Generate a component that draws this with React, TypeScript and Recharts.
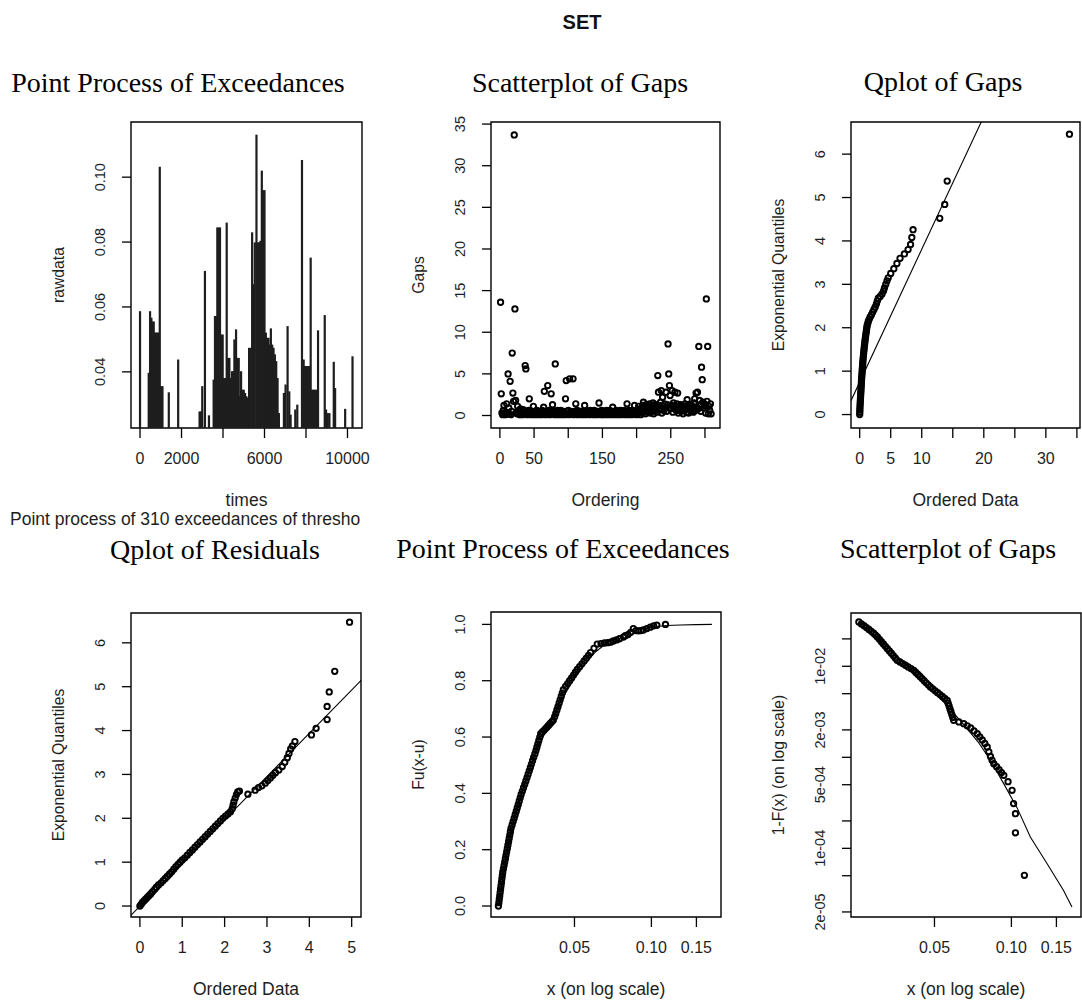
import React from 'react'
import {
  ComposedChart,
  Scatter,
  Line,
  Bar,
  XAxis,
  YAxis,
  ReferenceArea,
  Label,
} from 'recharts'

const SANS = '"Liberation Sans", Arial, Helvetica, sans-serif'
const SERIF = '"Liberation Serif", "Times New Roman", Times, serif'
const INK = '#1e1e1e'

// --- panel 1: point process of exceedances (time, raw value)
const exceedTimes = [
  0, 419, 484, 548, 613, 661, 726, 790, 839, 903, 952, 1016, 1081, 1387, 1839,
  2871, 2936, 3000, 3129, 3323, 3549, 3613, 3678, 3726, 3791, 3855, 3920, 3984,
  4049, 4113, 4178, 4242, 4307, 4371, 4436, 4500, 4549, 4629, 4694, 4758, 4823,
  4871, 4936, 5000, 5065, 5129, 5194, 5258, 5323, 5404, 5468, 5533, 5613, 5678,
  5742, 5807, 5871, 5936, 6000, 6065, 6129, 6194, 6258, 6307, 6371, 6436, 6500,
  6565, 6630, 6694, 6936, 7016, 7113, 7194, 7258, 7484, 7581, 7807, 7888, 7952,
  8017, 8081, 8146, 8226, 8291, 8355, 8420, 8484, 8581, 8904, 8968, 9049, 9129,
  9339, 9404, 9888, 10243,
]
const exceedValues = [
  0.0587, 0.0397, 0.0587, 0.0567, 0.0555, 0.0555, 0.0521, 0.0521, 0.0521, 0.0521,
  0.1032, 0.0356, 0.0356, 0.0337, 0.0438, 0.0278, 0.0278, 0.0356, 0.0711, 0.0266,
  0.0376, 0.0572, 0.0572, 0.0845, 0.0845, 0.0845, 0.0515, 0.0515, 0.0381, 0.0381,
  0.086, 0.0443, 0.0443, 0.0381, 0.0402, 0.0402, 0.05, 0.0531, 0.0443, 0.0443,
  0.0325, 0.0402, 0.0345, 0.0345, 0.0335, 0.0325, 0.032, 0.0474, 0.0474, 0.083,
  0.067, 0.0799, 0.1131, 0.0799, 0.0799, 0.0804, 0.102, 0.096, 0.096, 0.0521,
  0.0505, 0.0505, 0.0484, 0.0534, 0.0484, 0.0474, 0.0454, 0.0433, 0.0381, 0.0273,
  0.0335, 0.0361, 0.0541, 0.034, 0.0268, 0.0284, 0.0299, 0.1053, 0.0438, 0.0418,
  0.0418, 0.0418, 0.0418, 0.0752, 0.0345, 0.0345, 0.0345, 0.0345, 0.0528, 0.0575,
  0.0284, 0.0273, 0.0273, 0.0431, 0.035, 0.0286, 0.0448,
]

// --- panel 2: gaps in order of occurrence
const gapValues = [
  13.6, 2.6, 0.3, 0.1, 0.6, 1.2, 0.2, 0.1, 0.4, 1.4,
  0.3, 5.0, 0.9, 0.2, 4.1, 0.1, 0.5, 7.5, 2.7, 1.7,
  33.7, 12.8, 1.8, 0.4, 0.2, 1.1, 0.3, 0.6, 0.1, 0.8,
  0.2, 0.4, 0.1, 0.7, 0.3, 0.2, 6.0, 5.6, 0.5, 0.1,
  0.3, 0.6, 2.0, 0.2, 0.4, 0.1, 0.5, 0.3, 1.1, 0.2,
  0.1, 0.5, 0.3, 0.6, 0.2, 0.1, 0.4, 0.5, 0.2, 0.3,
  0.1, 0.6, 0.2, 1.0, 2.9, 0.4, 0.1, 0.3, 0.5, 3.6,
  0.2, 0.6, 0.1, 0.4, 2.6, 0.3, 1.3, 0.2, 0.5, 0.1,
  6.2, 0.4, 0.2, 0.6, 0.1, 0.3, 0.5, 0.2, 0.6, 0.1,
  0.4, 0.2, 0.5, 0.3, 0.1, 2.0, 4.2, 0.5, 0.2, 0.6,
  0.1, 4.4, 0.3, 0.5, 0.2, 0.4, 4.4, 0.1, 0.5, 0.3,
  1.4, 0.2, 0.6, 0.1, 0.4, 0.3, 0.5, 0.2, 0.5, 0.1,
  0.3, 0.5, 0.2, 1.2, 0.1, 0.4, 0.2, 0.5, 0.3, 0.5,
  0.1, 0.6, 0.2, 0.4, 0.3, 0.5, 0.1, 0.6, 0.2, 0.4,
  0.3, 0.1, 0.5, 0.2, 1.5, 0.5, 0.3, 0.1, 0.6, 0.2,
  0.4, 0.1, 0.5, 0.3, 0.2, 0.6, 0.1, 0.5, 0.3, 0.2,
  0.6, 0.1, 0.4, 0.2, 1.0, 0.3, 0.1, 0.5, 0.2, 0.6,
  0.4, 0.1, 0.5, 0.3, 0.2, 0.6, 0.1, 0.4, 0.5, 0.2,
  0.3, 0.6, 0.1, 0.5, 0.2, 1.4, 0.4, 0.1, 0.6, 0.3,
  0.2, 0.5, 0.1, 0.6, 0.4, 0.2, 1.2, 0.3, 0.5, 0.1,
  0.7, 0.2, 1.1, 0.4, 0.6, 0.1, 0.9, 0.3, 1.2, 1.6,
  0.5, 1.0, 0.2, 1.3, 0.8, 0.4, 1.1, 0.6, 1.4, 0.3,
  0.9, 1.2, 0.5, 1.5, 0.2, 0.8, 1.3, 0.6, 1.0, 0.4,
  4.8, 2.8, 1.2, 0.7, 1.6, 3.0, 0.3, 2.2, 1.1, 0.6,
  1.4, 0.9, 2.8, 0.5, 1.3, 8.6, 5.0, 3.6, 2.4, 0.8,
  1.2, 3.0, 0.4, 1.5, 0.9, 2.8, 1.1, 0.6, 1.4, 2.7,
  0.3, 1.0, 0.7, 1.3, 0.5, 1.2, 0.9, 0.2, 1.1, 0.6,
  1.4, 0.8, 0.4, 1.9, 1.0, 0.3, 1.2, 0.7, 1.3, 0.5,
  0.9, 1.1, 0.4, 1.5, 2.0, 0.6, 2.7, 1.0, 2.8, 0.8,
  8.3, 1.8, 1.3, 0.5, 5.8, 4.3, 1.6, 0.9, 1.4, 1.2,
  0.3, 14.0, 1.7, 8.3, 0.2, 1.1, 0.6, 1.4, 0.2,
]

// --- panel 3: ordered gaps vs exponential quantiles
const gapQuantiles: number[][] = [
  [0, 0], [0.02, 0.05], [0.03, 0.1], [0.04, 0.15], [0.06, 0.2], [0.08, 0.25],
  [0.1, 0.3], [0.12, 0.35], [0.14, 0.4], [0.16, 0.45], [0.18, 0.5], [0.2, 0.55],
  [0.22, 0.6], [0.24, 0.65], [0.26, 0.7], [0.28, 0.75], [0.3, 0.8], [0.32, 0.85],
  [0.35, 0.9], [0.38, 0.95], [0.4, 1.0], [0.42, 1.05], [0.45, 1.1], [0.48, 1.15],
  [0.5, 1.2], [0.53, 1.25], [0.56, 1.3], [0.6, 1.35], [0.63, 1.4], [0.66, 1.45],
  [0.7, 1.5], [0.74, 1.55], [0.78, 1.6], [0.82, 1.65], [0.86, 1.7], [0.9, 1.75],
  [0.95, 1.8], [1.0, 1.85], [1.05, 1.9], [1.1, 1.95], [1.15, 2.0], [1.2, 2.05],
  [1.3, 2.1], [1.4, 2.15], [1.55, 2.2], [1.7, 2.25], [1.9, 2.3], [2.1, 2.36],
  [2.3, 2.42], [2.5, 2.48], [2.7, 2.55], [2.85, 2.62], [3.0, 2.68], [3.3, 2.72],
  [3.6, 2.78], [3.85, 2.85], [4.0, 2.92], [4.2, 3.0], [4.4, 3.08], [4.6, 3.15],
  [5.0, 3.25], [5.5, 3.36], [6.0, 3.48], [6.5, 3.6], [7.2, 3.7], [7.8, 3.8],
  [8.2, 3.92], [8.4, 4.08], [8.6, 4.26], [12.9, 4.52], [13.7, 4.84], [14.1, 5.38],
  [33.8, 6.46],
]
const gapFitLine: number[][] = [[-1.4, 0.32], [22, 7.48]]

// --- panel 4: residual qq plot
const residualQuantiles: number[][] = [
  [0, 0], [0.03, 0.04], [0.06, 0.08], [0.1, 0.12], [0.14, 0.16], [0.18, 0.2],
  [0.22, 0.24], [0.26, 0.28], [0.3, 0.33], [0.35, 0.38], [0.39, 0.43], [0.44, 0.48],
  [0.5, 0.53], [0.55, 0.58], [0.6, 0.63], [0.65, 0.68], [0.7, 0.73], [0.75, 0.78],
  [0.8, 0.84], [0.85, 0.9], [0.9, 0.95], [0.95, 1.0], [1.0, 1.05], [1.06, 1.1],
  [1.12, 1.16], [1.18, 1.22], [1.24, 1.28], [1.3, 1.34], [1.36, 1.4], [1.42, 1.46],
  [1.48, 1.52], [1.54, 1.58], [1.6, 1.64], [1.66, 1.7], [1.72, 1.76], [1.78, 1.82],
  [1.84, 1.88], [1.9, 1.94], [1.96, 2.0], [2.02, 2.05], [2.08, 2.1], [2.14, 2.15],
  [2.18, 2.22], [2.2, 2.3], [2.22, 2.38], [2.25, 2.46], [2.28, 2.54], [2.31, 2.6],
  [2.35, 2.62], [2.55, 2.55], [2.72, 2.64], [2.8, 2.7], [2.88, 2.74], [2.96, 2.8],
  [3.02, 2.86], [3.08, 2.92], [3.14, 2.98], [3.2, 3.04], [3.28, 3.1], [3.36, 3.18],
  [3.42, 3.28], [3.48, 3.38], [3.52, 3.48], [3.56, 3.58], [3.6, 3.65], [3.66, 3.75],
  [4.05, 3.9], [4.16, 4.05], [4.42, 4.25], [4.42, 4.55], [4.47, 4.88], [4.6, 5.35],
  [4.95, 6.47],
]
const residualLine: number[][] = [[-0.3, -0.3], [5.3, 5.22]]

// --- panel 5: excess distribution Fu(x-u)
const excessCdf: number[][] = [
  [0.0252, 0], [0.0253, 0.012], [0.0254, 0.024], [0.0255, 0.036], [0.0256, 0.048],
  [0.0257, 0.06], [0.0258, 0.072], [0.0259, 0.084], [0.026, 0.096], [0.0261, 0.108],
  [0.0262, 0.12], [0.02636, 0.132], [0.02652, 0.144], [0.02667, 0.156], [0.02683, 0.168],
  [0.02698, 0.18], [0.02714, 0.192], [0.0273, 0.204], [0.02745, 0.216], [0.02761, 0.228],
  [0.02776, 0.24], [0.02792, 0.252], [0.02808, 0.264], [0.02823, 0.276], [0.0285, 0.288],
  [0.02877, 0.3], [0.02904, 0.312], [0.02931, 0.324], [0.02958, 0.336], [0.02985, 0.348],
  [0.03012, 0.36], [0.03039, 0.372], [0.03066, 0.384], [0.03093, 0.396], [0.03127, 0.408],
  [0.0316, 0.42], [0.03194, 0.432], [0.03227, 0.444], [0.03261, 0.456], [0.03294, 0.468],
  [0.03328, 0.48], [0.03361, 0.492], [0.03394, 0.504], [0.03428, 0.516], [0.03461, 0.528],
  [0.03501, 0.54], [0.03533, 0.552], [0.03564, 0.564], [0.03596, 0.576], [0.03627, 0.588],
  [0.03659, 0.6], [0.0369, 0.612], [0.03745, 0.618], [0.038, 0.624], [0.03855, 0.63],
  [0.0391, 0.636], [0.03965, 0.642], [0.0402, 0.648], [0.04075, 0.654], [0.0413, 0.66],
  [0.04183, 0.672], [0.04225, 0.684], [0.04268, 0.696], [0.0431, 0.708], [0.04353, 0.72],
  [0.04395, 0.732], [0.04438, 0.744], [0.0448, 0.756], [0.04523, 0.768], [0.04616, 0.78],
  [0.04701, 0.79], [0.04787, 0.8], [0.04873, 0.81], [0.04959, 0.82], [0.05044, 0.83],
  [0.0513, 0.84], [0.05238, 0.85], [0.05347, 0.86], [0.05455, 0.87], [0.05563, 0.88],
  [0.05672, 0.89], [0.0578, 0.9], [0.0596, 0.915], [0.0614, 0.93], [0.0635, 0.932],
  [0.0655, 0.934], [0.0675, 0.935], [0.0692, 0.937], [0.071, 0.941], [0.073, 0.945],
  [0.075, 0.949], [0.0777, 0.955], [0.079, 0.96], [0.081, 0.964], [0.083, 0.972],
  [0.085, 0.985], [0.087, 0.978], [0.089, 0.977], [0.091, 0.978], [0.093, 0.98],
  [0.096, 0.985], [0.099, 0.99], [0.102, 0.995], [0.105, 0.997], [0.1135, 1.0],
]
const excessFit: number[][] = [
  [0.0252, 0], [0.026, 0.08], [0.028, 0.25], [0.031, 0.4], [0.035, 0.54], [0.04, 0.65],
  [0.045, 0.74], [0.05, 0.81], [0.055, 0.86], [0.06, 0.9], [0.065, 0.925], [0.07, 0.945],
  [0.08, 0.97], [0.09, 0.983], [0.1, 0.991], [0.115, 0.996], [0.13, 0.998], [0.15, 0.999],
  [0.1725, 1.0],
]

// --- panel 6: tail of underlying distribution 1-F(x)
const tailProb: number[][] = [
  [0.0253, 0.0307], [0.0259, 0.02924], [0.0265, 0.02793], [0.0271, 0.02661], [0.0277, 0.0254],
  [0.0283, 0.02421], [0.0289, 0.02307], [0.0294, 0.02203], [0.0299, 0.021], [0.03046, 0.01979],
  [0.031, 0.01865], [0.03156, 0.01758], [0.03213, 0.01658], [0.03271, 0.01563], [0.0333, 0.01473],
  [0.03389, 0.0139], [0.0345, 0.0131], [0.03512, 0.01235], [0.03573, 0.01164], [0.03663, 0.01116],
  [0.03755, 0.0107], [0.03849, 0.01026], [0.03946, 0.00984], [0.04046, 0.00943], [0.0415, 0.00904],
  [0.04227, 0.00857], [0.04307, 0.00813], [0.04388, 0.00772], [0.04471, 0.00732], [0.04555, 0.00694],
  [0.04641, 0.00658], [0.04728, 0.00625], [0.04819, 0.00593], [0.04925, 0.00565], [0.05033, 0.00538],
  [0.05143, 0.00513], [0.05255, 0.00489], [0.0537, 0.00466], [0.05487, 0.00444], [0.0561, 0.00423],
  [0.05656, 0.00393], [0.05703, 0.00366], [0.05751, 0.0034], [0.05799, 0.00317], [0.05847, 0.00295],
  [0.05896, 0.00274], [0.05943, 0.00255], [0.0623, 0.00245], [0.0651, 0.00234], [0.0672, 0.00222],
  [0.0693, 0.0021], [0.0714, 0.00195], [0.0735, 0.00182], [0.0752, 0.00168], [0.0769, 0.00155],
  [0.0787, 0.00142], [0.0804, 0.0013], [0.0816, 0.00115], [0.0828, 0.00102], [0.084, 0.00093],
  [0.0853, 0.00085], [0.0875, 0.00079], [0.0895, 0.00073], [0.0915, 0.00068], [0.0934, 0.000634],
  [0.097, 0.00054], [0.1006, 0.000434], [0.102, 0.00031], [0.1037, 0.00024], [0.1037, 0.000148],
  [0.1124, 0.0000505],
]
const tailFit: number[][] = [
  [0.0253, 0.031], [0.03, 0.0205], [0.036, 0.0125], [0.042, 0.0085], [0.048, 0.0058],
  [0.056, 0.0037], [0.065, 0.0023], [0.074, 0.00148], [0.0828, 0.00093], [0.0933, 0.000514],
  [0.1052, 0.00028], [0.1186, 0.000133], [0.1378, 0.000068], [0.16, 0.0000345], [0.1725, 0.0000226],
]

// tick positions and the labels R kept (blank = tick without label)
const p1XTicks = [0, 2000, 4000, 6000, 8000, 10000]
const p1XLabels = ['0', '2000', '', '6000', '', '10000']
const p1YTicks = [0.04, 0.06, 0.08, 0.1]
const p1YLabels = ['0.04', '0.06', '0.08', '0.10']
const p2XTicks = [0, 50, 100, 150, 200, 250, 300]
const p2XLabels = ['0', '50', '', '150', '', '250', '']
const p2YTicks = [0, 5, 10, 15, 20, 25, 30, 35]
const p2YLabels = ['0', '5', '10', '15', '20', '25', '30', '35']
const p3XTicks = [0, 5, 10, 15, 20, 25, 30, 35]
const p3XLabels = ['0', '5', '10', '', '20', '', '30', '']
const qYTicks = [0, 1, 2, 3, 4, 5, 6]
const qYLabels = ['0', '1', '2', '3', '4', '5', '6']
const p4XTicks = [0, 1, 2, 3, 4, 5]
const p4XLabels = ['0', '1', '2', '3', '4', '5']
const logXTicks = [0.05, 0.1, 0.15]
const logXLabels = ['0.05', '0.10', '0.15']
const p5YTicks = [0, 0.2, 0.4, 0.6, 0.8, 1]
const p5YLabels = ['0.0', '0.2', '0.4', '0.6', '0.8', '1.0']
const p6YTicks = [2e-5, 5e-5, 1e-4, 2e-4, 5e-4, 1e-3, 2e-3, 5e-3, 1e-2, 2e-2]
const p6YLabels = ['2e-05', '', '1e-04', '', '5e-04', '', '2e-03', '', '1e-02', '']

const toXY = (rows: number[][]) => rows.map(([x, y]) => ({ x, y }))

const YW = 100
const MT = 16
const MR = 24
const XH = 95

const pick = (ticks: number[], labels: string[], v: number) => {
  const i = ticks.findIndex((t) => Math.abs(t - v) <= Math.abs(t) * 1e-6 + 1e-12)
  return i >= 0 ? labels[i] : ''
}

const xTick = (ticks: number[], labels: string[]) => (p: any) => (
  <text x={p.x} y={p.y} dy="0.35em" textAnchor="middle" fontSize={16} fontFamily={SANS} fill={INK}>
    {pick(ticks, labels, p.payload.value)}
  </text>
)

const yTick = (ticks: number[], labels: string[]) => (p: any) => (
  <text
    x={p.x}
    y={p.y}
    dy="0.35em"
    textAnchor="middle"
    transform={`rotate(-90 ${p.x} ${p.y})`}
    fontSize={14.5}
    fontFamily={SANS}
    fill={INK}
  >
    {pick(ticks, labels, p.payload.value)}
  </text>
)

const ring = (p: any) => (
  <circle cx={p.cx} cy={p.cy} r={2.7} fill="none" stroke="#000" strokeWidth={1.9} />
)

// R's type="h" spikes: a fixed-width stroke from the value down to the axis floor
const spike = (p: any) => (
  <rect x={p.x + p.width / 2 - 1.1} y={p.y} width={2.2} height={Math.max(0, p.height)} fill={INK} />
)

type Box = { x: number; y: number; w: number; h: number }

type PanelProps = {
  box: Box
  xDomain: [number, number]
  yDomain: [number, number]
  xLog?: boolean
  yLog?: boolean
  xTicks: number[]
  xLabels: string[]
  yTicks: number[]
  yLabels: string[]
  xTitle: string
  yTitle: string
  data?: any[]
  children: React.ReactNode
}

function Panel(p: PanelProps) {
  const { box } = p
  const xTitle = (props: any) => {
    const vb = props.viewBox || {}
    const cx = (vb.x ?? YW) + (vb.width ?? box.w) / 2
    const cy = (vb.y ?? MT + box.h) + 72
    return (
      <text x={cx} y={cy} dy="0.35em" textAnchor="middle" fontSize={17.5} fontFamily={SANS} fill={INK}>
        {p.xTitle}
      </text>
    )
  }
  const yTitle = (props: any) => {
    const vb = props.viewBox || {}
    const cx = (vb.x ?? 0) + (vb.width ?? YW) - 72
    const cy = (vb.y ?? MT) + (vb.height ?? box.h) / 2
    return (
      <text
        x={cx}
        y={cy}
        dy="0.35em"
        textAnchor="middle"
        transform={`rotate(-90 ${cx} ${cy})`}
        fontSize={15.7}
        fontFamily={SANS}
        fill={INK}
      >
        {p.yTitle}
      </text>
    )
  }
  return (
    <div style={{ position: 'absolute', left: box.x - YW, top: box.y - MT }}>
      <ComposedChart
        width={YW + box.w + MR}
        height={MT + box.h + XH}
        data={p.data}
        margin={{ top: MT, right: MR, bottom: 0, left: 0 }}
      >
        <XAxis
          dataKey="x"
          type="number"
          scale={p.xLog ? 'log' : 'linear'}
          domain={p.xDomain}
          allowDataOverflow
          ticks={p.xTicks}
          interval={0}
          tick={xTick(p.xTicks, p.xLabels)}
          tickSize={10}
          tickMargin={20}
          tickLine={{ stroke: '#000', strokeWidth: 1.3 }}
          axisLine={false}
          height={XH}
        >
          <Label content={xTitle} />
        </XAxis>
        <YAxis
          type="number"
          scale={p.yLog ? 'log' : 'linear'}
          domain={p.yDomain}
          allowDataOverflow
          ticks={p.yTicks}
          interval={0}
          tick={yTick(p.yTicks, p.yLabels)}
          tickSize={9}
          tickMargin={22}
          tickLine={{ stroke: '#000', strokeWidth: 1.3 }}
          axisLine={false}
          width={YW}
        >
          <Label content={yTitle} />
        </YAxis>
        {p.children}
        <ReferenceArea
          x1={p.xDomain[0]}
          x2={p.xDomain[1]}
          y1={p.yDomain[0]}
          y2={p.yDomain[1]}
          fill="none"
          stroke="#000"
          strokeWidth={1.4}
          ifOverflow="visible"
        />
      </ComposedChart>
    </div>
  )
}

const titleStyle = (cx: number, cy: number): React.CSSProperties => ({
  position: 'absolute',
  left: cx - 220,
  width: 440,
  top: cy - 17,
  height: 34,
  lineHeight: '34px',
  textAlign: 'center',
  fontFamily: SERIF,
  fontSize: 28,
  color: '#000',
  whiteSpace: 'nowrap',
})

export default function App() {
  const rawData = exceedTimes.map((t, i) => ({ x: t, y: exceedValues[i] }))
  const gapData = gapValues.map((g, i) => ({ x: i + 1, y: g }))

  return (
    <div
      style={{
        position: 'absolute',
        left: 0,
        top: 0,
        width: 1082,
        height: 1000,
        overflow: 'hidden',
        background: '#fff',
      }}
    >
      <div
        style={{
          position: 'absolute',
          left: 482,
          width: 200,
          top: 9,
          lineHeight: '26px',
          textAlign: 'center',
          fontFamily: SANS,
          fontWeight: 'bold',
          fontSize: 20,
          color: '#111',
        }}
      >
        SET
      </div>

      <div style={titleStyle(178, 83)}>Point Process of Exceedances</div>
      <div style={titleStyle(580, 83)}>Scatterplot of Gaps</div>
      <div style={titleStyle(943, 82)}>Qplot of Gaps</div>
      <div style={titleStyle(215, 550)}>Qplot of Residuals</div>
      <div style={titleStyle(563, 549)}>Point Process of Exceedances</div>
      <div style={titleStyle(948, 549)}>Scatterplot of Gaps</div>

      <Panel
        box={{ x: 131, y: 122, w: 231, h: 306 }}
        xDomain={[-435, 10700]}
        yDomain={[0.0227, 0.117]}
        xTicks={p1XTicks}
        xLabels={p1XLabels}
        yTicks={p1YTicks}
        yLabels={p1YLabels}
        xTitle="times"
        yTitle="rawdata"
        data={rawData}
      >
        <Bar dataKey="y" shape={spike} fill={INK} isAnimationActive={false} />
      </Panel>

      <div
        style={{
          position: 'absolute',
          left: 10,
          width: 351,
          top: 508,
          lineHeight: '22px',
          overflow: 'hidden',
          whiteSpace: 'nowrap',
          fontFamily: SANS,
          fontSize: 17.5,
          color: INK,
        }}
      >
        Point process of 310 exceedances of threshold 0.0253
      </div>

      <Panel
        box={{ x: 491, y: 122, w: 229, h: 306 }}
        xDomain={[-13, 322]}
        yDomain={[-1.5, 35.25]}
        xTicks={p2XTicks}
        xLabels={p2XLabels}
        yTicks={p2YTicks}
        yLabels={p2YLabels}
        xTitle="Ordering"
        yTitle="Gaps"
      >
        <Scatter data={gapData} dataKey="y" shape={ring} isAnimationActive={false} />
      </Panel>

      <Panel
        box={{ x: 851, y: 122, w: 229, h: 306 }}
        xDomain={[-1.4, 35.5]}
        yDomain={[-0.31, 6.74]}
        xTicks={p3XTicks}
        xLabels={p3XLabels}
        yTicks={qYTicks}
        yLabels={qYLabels}
        xTitle="Ordered Data"
        yTitle="Exponential Quantiles"
      >
        <Line data={toXY(gapFitLine)} dataKey="y" stroke="#000" strokeWidth={1.1} dot={false} isAnimationActive={false} />
        <Scatter data={toXY(gapQuantiles)} dataKey="y" shape={ring} isAnimationActive={false} />
      </Panel>

      <Panel
        box={{ x: 131, y: 613, w: 230, h: 304 }}
        xDomain={[-0.21, 5.22]}
        yDomain={[-0.25, 6.68]}
        xTicks={p4XTicks}
        xLabels={p4XLabels}
        yTicks={qYTicks}
        yLabels={qYLabels}
        xTitle="Ordered Data"
        yTitle="Exponential Quantiles"
      >
        <Line data={toXY(residualLine)} dataKey="y" stroke="#000" strokeWidth={1.1} dot={false} isAnimationActive={false} />
        <Scatter data={toXY(residualQuantiles)} dataKey="y" shape={ring} isAnimationActive={false} />
      </Panel>

      <Panel
        box={{ x: 491, y: 612, w: 230, h: 305 }}
        xDomain={[0.02357, 0.1872]}
        yDomain={[-0.039, 1.044]}
        xLog
        xTicks={logXTicks}
        xLabels={logXLabels}
        yTicks={p5YTicks}
        yLabels={p5YLabels}
        xTitle="x (on log scale)"
        yTitle="Fu(x-u)"
      >
        <Line data={toXY(excessFit)} dataKey="y" stroke="#000" strokeWidth={1.1} dot={false} isAnimationActive={false} />
        <Scatter data={toXY(excessCdf)} dataKey="y" shape={ring} isAnimationActive={false} />
      </Panel>

      <Panel
        box={{ x: 851, y: 613, w: 230, h: 304 }}
        xDomain={[0.02357, 0.1872]}
        yDomain={[1.76e-5, 0.0385]}
        xLog
        yLog
        xTicks={logXTicks}
        xLabels={logXLabels}
        yTicks={p6YTicks}
        yLabels={p6YLabels}
        xTitle="x (on log scale)"
        yTitle="1-F(x) (on log scale)"
      >
        <Line data={toXY(tailFit)} dataKey="y" stroke="#000" strokeWidth={1.1} dot={false} isAnimationActive={false} />
        <Scatter data={toXY(tailProb)} dataKey="y" shape={ring} isAnimationActive={false} />
      </Panel>
    </div>
  )
}
